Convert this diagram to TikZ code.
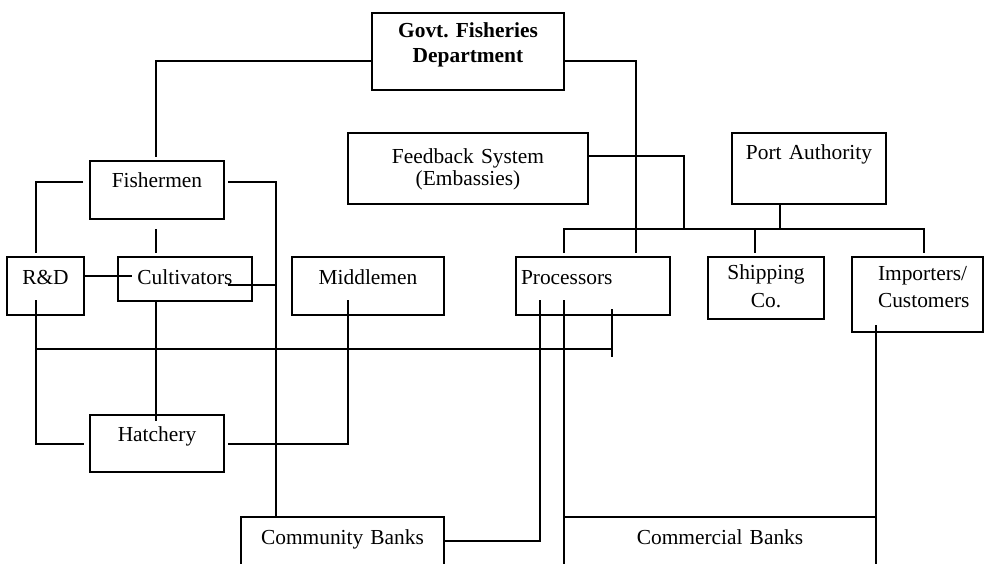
\documentclass[tikz,border=0pt]{standalone}
\usepackage{fontspec}
\setmainfont{Liberation Serif}
\usetikzlibrary{positioning,calc}

\begin{document}
\begin{tikzpicture}[
    x=0.5pt, y=-0.5pt,
    font=\fontsize{10.7}{13.5}\selectfont\frenchspacing,
    box/.style={draw, line width=0.7pt, text width=#1, inner xsep=0pt, outer sep=0pt,
                inner ysep=3pt, text height=10pt, align=center, anchor=north west},
    box/.default=67pt,
    link/.style={line width=0.7pt}
]
\useasboundingbox (0,0) rectangle (986,563);
\clip (0,0) rectangle (986,563);

% top
\node[box=96pt, text height=9pt, text depth=23.5pt,
      font=\bfseries\fontsize{10.7}{12.5}\selectfont\frenchspacing] (govt) at (372,13) {Govt. Fisheries\\Department};
\node[box=120pt, text height=12pt, text depth=17.5pt,
      font=\fontsize{10.7}{11}\selectfont] (feed) at (348,133) {Feedback System\\(Embassies)};
\node[box=77pt, text depth=19.5pt, right=72pt of feed.north east, anchor=north west] (port) {Port Authority};

% left side
\node[box, text depth=13pt] (fish) at (90,161) {Fishermen};
\node[box=38.5pt, text height=10.5pt, text depth=12.5pt] (rd) at (7,257) {R\&D};
\node[box, text height=10.5pt, text depth=5.5pt, right=17pt of rd.north east, anchor=north west] (cult) {Cultivators};
\node[box=76pt, text height=10.5pt, text depth=12.5pt, right=20pt of cult.north east, anchor=north west] (mid) {Middlemen};
\node[box, text depth=12.5pt, below=98pt of fish.south west, anchor=north west] (hatch) {Hatchery};

% right side
\node[box=72pt, align=left, inner xsep=2.5pt, text height=10.5pt, text depth=12.5pt,
      right=36pt of mid.north east, anchor=north west] (proc) {Processors};
\node[box=58pt, text height=8pt, text depth=17pt, font=\fontsize{10.7}{14}\selectfont,
      right=19pt of proc.north east, anchor=north west] (ship) {Shipping\\Co.};
\node[box=39.5pt, align=left, inner xsep=13pt, text height=8.5pt, text depth=23pt,
      right=14pt of ship.north east, anchor=north west] (imp) {Importers/\\Customers};

% banks
\node[box=101.5pt, text height=10.5pt, text depth=25pt] (comm) at (241,517) {Community Banks};
\node[box=156pt, text height=10.5pt, text depth=25pt, right=60pt of comm.north east, anchor=north west] (cbank) {Commercial Banks};

% links
\draw[link] ($(govt.west)+(0,9.5)$) -| ($(fish.north)+(-1,-4)$);
\draw[link] ($(govt.east)+(0,9.5)$) -| ($(proc.north)+(43,-4)$);
\draw[link] ($(fish.west)+(-7,-8)$) -| ($(rd.north)+(-9.5,-4)$);
\draw[link] ($(fish.east)+(4,-8)$) -| ($(comm.north)+(-66.5,0)$);
\draw[link] ($(fish.south)+(-1,10)$) -- ++(0,24);
\draw[link] ($(rd.east)+(0,-10)$) -- ($(cult.west)+(14,-3)$);
\draw[link] ($(cult.east)+(-24,6)$) -- ($(cult.east)+(24,6)$);
\draw[link] ($(rd.south)+(-9.5,-15)$) |- ($(hatch.west)+(-6,0.5)$);
\draw[link] ($(cult.south)+(-29,0)$) -- ++(0,120);
\draw[link] ($(mid.south)+(-20,-15)$) |- ($(hatch.east)+(4,0.5)$);
\draw[link] ($(rd.south)+(-9.5,34)$) -- ($(proc.south)+(19,34)$);
\draw[link] ($(proc.south)+(19,-6)$) -- ++(0,48);
\draw[link] ($(comm.north east)+(0,24)$) -| ($(proc.south)+(-53,-15)$);
\draw[link] ($(proc.south)+(-29,-15)$) |- (cbank.north west);
\draw[link] ($(proc.north)+(-29,-4)$) |- ($(imp.north)+(6.5,-28)$) -- ++(0,24);
\draw[link] ($(feed.east)+(0,-12.5)$) -| ($(port.south)+(-125,25)$);
\draw[link] ($(port.south)+(-29,0)$) -- ++(0,25);
\draw[link] ($(ship.north)+(-11,-28)$) -- ++(0,24);
\draw[link] (cbank.north east) -- ++(0,-192);
\end{tikzpicture}
\end{document}
